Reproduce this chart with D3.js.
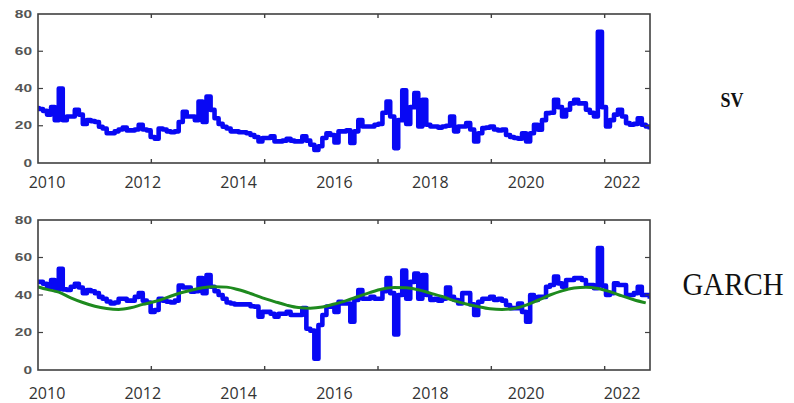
<!DOCTYPE html>
<html>
<head>
<meta charset="utf-8">
<script src="https://cdn.jsdelivr.net/npm/d3@7"></script>
<style>
  body { margin: 0; background: #fff; }
  svg { display: block; }
</style>
</head>
<body>
<svg id="vis" width="794" height="403"></svg>
<script>
// monthly series, first value = Oct 2009
const startMonth = new Date(2009, 9, 1);

const svValues = [
  29.5, 29, 28, 26, 30, 23, 40, 23, 25, 25,
  28.5, 26, 21, 23, 22.5, 22, 19.5, 18.5, 16, 16,
  17, 18, 19, 17.5, 17.5, 18, 20.5, 18, 17.5, 14,
  13, 18.5, 18, 17, 16.5, 17, 22, 27.5, 25, 25,
  23, 33, 22, 35.7, 28.5, 24, 21, 19.5, 18.5, 17,
  17, 16.5, 16.5, 16, 15, 14, 11.6, 13.4, 13.4, 14.3,
  11.6, 11.6, 12, 13, 12, 11.6, 11.6, 14.3, 12, 9.8,
  7, 9, 13.4, 16, 15, 11, 17, 17, 17.5, 10.7,
  17, 23, 19.6, 19.6, 19.6, 20.5, 21, 27, 33, 25,
  8, 23, 39, 21, 30, 37.5, 19.6, 34, 20.5, 19.6,
  19.6, 19, 19.6, 20, 25, 17, 19.6, 19.6, 21.4, 18,
  11.6, 16, 18.75, 19, 19.6, 18, 17.5, 17.9, 15, 14,
  13.4, 13, 16, 11.6, 16, 20.5, 17.9, 23, 26.8, 27,
  34, 30, 25, 28.6, 32, 34, 32, 32, 28.6, 27,
  25, 70.5, 30, 19.6, 23, 26, 28.6, 25, 21.4, 20.5,
  21, 24, 20.5, 19.6, 18
];

const garchValues = [
  47, 47, 46, 44, 48, 42.7, 54, 43, 42.7, 44.4,
  46, 44, 41, 42.7, 42, 41, 39, 38, 36.5, 35.5,
  36, 38, 38, 37, 37, 39, 41, 37, 36, 31,
  32, 38, 37, 36.4, 36, 37, 45, 44, 44, 41.8,
  42, 49, 41, 50.7, 44.4, 42, 40, 38, 36, 35.5,
  35, 35, 35, 35, 34, 33.8, 28.4, 31, 31, 30,
  28.4, 30, 30, 31, 29.3, 29.3, 29.3, 33, 22, 21,
  6, 24, 29.3, 33.8, 33.8, 31, 36.4, 35.5, 35.5, 25.8,
  37.3, 42.7, 38, 38, 39, 38, 38, 42, 49, 41,
  19, 40, 53, 38, 47, 51.5, 38, 50.7, 40, 37.3,
  38, 37, 38, 44, 39, 37.3, 35.5, 41, 41, 35,
  29.3, 36.4, 38, 38, 39, 37.3, 38, 37, 34.7, 33,
  33, 35.5, 31, 25.8, 40, 37.3, 39, 39, 44.4, 45.3,
  49.8, 46.2, 44.4, 48, 48, 49, 49, 48, 45.3, 45.3,
  43.6, 65, 45, 40, 41, 46.2, 45.3, 45.3, 40, 40,
  41, 44.4, 40, 40, 38
];

// smooth GARCH component, one value per quarter
const garchTrend = [
  44.8, 43, 41.5, 38.5, 36, 34, 32.8, 32.3, 33.2, 35,
  36.5, 38.6, 40.8, 42.5, 43.9, 44.4, 44.2, 42.8, 40.8, 38.5,
  36.5, 34.6, 33.3, 33, 33.6, 35.2, 37, 39.2, 41.4, 43.2,
  44, 43.9, 42.8, 41, 39.2, 37, 35.2, 33.8, 32.7, 32.3,
  32.8, 34.6, 37.2, 40, 42.2, 43.7, 44.2, 43.5, 41.8, 39.5,
  37.5, 35.8
];

const yearLabels = [2010, 2012, 2014, 2016, 2018, 2020, 2022];
const yTicks = [0, 20, 40, 60, 80];
const frameTicks = [500, 1000, 1500, 2000, 2500];  // observation index ticks on the frame

const SVG = d3.select("#vis");
const left = 38, right = 650;

const x = d3.scaleTime()
  .domain([new Date(2010, 0, 1), new Date(2022, 0, 1)])
  .range([47, 622]);
const obs = d3.scaleLinear().domain([0, 2700]).range([left, right]);

const monthly = vals => vals.map((v, i) => ({ date: d3.timeMonth.offset(startMonth, i), v }));
const quarterly = vals => vals.map((v, i) => ({ date: d3.timeMonth.offset(startMonth, 3 * i), v }));

const panels = [
  { id: "sv", top: 14, bottom: 163, label: "SV", series: [monthly(svValues)], trend: null,
    labelX: 732, labelY: 107, labelSize: 22, labelLen: 23, labelWeight: "bold", yearY: 188 },
  { id: "garch", top: 220, bottom: 370, label: "GARCH", series: [monthly(garchValues)], trend: quarterly(garchTrend),
    labelX: 733, labelY: 295, labelSize: 31, labelLen: 101, labelWeight: "normal", yearY: 399 }
];

panels.forEach(p => {
  const y = d3.scaleLinear().domain([0, 80]).range([p.bottom, p.top]);
  const g = SVG.append("g");

  g.append("clipPath").attr("id", "clip-" + p.id)
    .append("rect").attr("x", left).attr("y", p.top)
    .attr("width", right - left).attr("height", p.bottom - p.top);

  const plot = g.append("g").attr("clip-path", `url(#clip-${p.id})`);

  const line = d3.line()
    .x(d => x(d.date))
    .y(d => y(d.v))
    .curve(d3.curveStepAfter);

  plot.selectAll("path.series")
    .data(p.series)
    .join("path")
    .attr("class", "series")
    .attr("d", line)
    .attr("fill", "none")
    .attr("stroke", "#0808f4")
    .attr("stroke-width", 4.6)
    .attr("stroke-linejoin", "round");

  if (p.trend) {
    plot.append("path")
      .datum(p.trend)
      .attr("d", d3.line().x(d => x(d.date)).y(d => y(d.v)).curve(d3.curveMonotoneX))
      .attr("fill", "none")
      .attr("stroke", "#1e8a1e")
      .attr("stroke-width", 3);
  }

  // frame
  g.append("rect")
    .attr("x", left).attr("y", p.top)
    .attr("width", right - left).attr("height", p.bottom - p.top)
    .attr("fill", "none").attr("stroke", "#404040").attr("stroke-width", 1.6);

  // inward ticks on top and bottom
  g.selectAll("line.xt")
    .data(frameTicks.flatMap(t => [[t, p.top, 4], [t, p.bottom, -4]]))
    .join("line")
    .attr("x1", d => obs(d[0])).attr("x2", d => obs(d[0]))
    .attr("y1", d => d[1]).attr("y2", d => d[1] + d[2])
    .attr("stroke", "#404040").attr("stroke-width", 1.4);

  // inward ticks on left and right
  g.selectAll("line.yt")
    .data(yTicks.slice(1, -1).flatMap(t => [[t, left, 5], [t, right, -5]]))
    .join("line")
    .attr("y1", d => y(d[0])).attr("y2", d => y(d[0]))
    .attr("x1", d => d[1]).attr("x2", d => d[1] + d[2])
    .attr("stroke", "#404040").attr("stroke-width", 1.2);

  // y tick labels
  g.selectAll("text.yl")
    .data(yTicks)
    .join("text")
    .attr("transform", d => `translate(32,${y(d) + 3.6}) scale(1.55,1)`)
    .attr("text-anchor", "end")
    .attr("font-family", "Liberation Sans, Arial, sans-serif")
    .attr("font-size", 10)
    .attr("font-weight", "bold")
    .attr("fill", "#555")
    .text(d => d);

  // year labels
  g.selectAll("text.xl")
    .data(yearLabels)
    .join("text")
    .attr("x", d => x(new Date(d, 0, 1)))
    .attr("y", p.yearY)
    .attr("text-anchor", "middle")
    .attr("font-family", "Open Sans, sans-serif")
    .attr("font-size", 16)
    .attr("fill", "#333")
    .text(d => d);

  // model name on the right
  g.append("text")
    .attr("x", p.labelX).attr("y", p.labelY)
    .attr("text-anchor", "middle")
    .attr("font-family", "Liberation Serif, Times New Roman, serif")
    .attr("font-size", p.labelSize)
    .attr("font-weight", p.labelWeight)
    .attr("textLength", p.labelLen)
    .attr("lengthAdjust", "spacingAndGlyphs")
    .attr("fill", "#111")
    .text(p.label);
});
</script>
</body>
</html>
